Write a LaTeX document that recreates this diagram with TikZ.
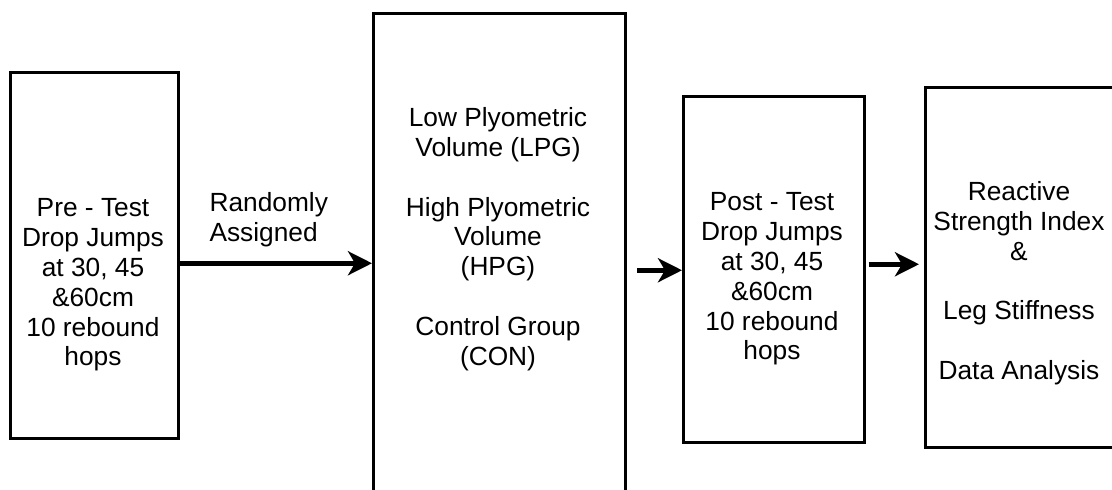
\documentclass[tikz,border=0pt]{standalone}
\usepackage{fontspec}
\setmainfont{Liberation Sans}
\usetikzlibrary{arrows.meta,calc}

\tikzset{
    stage/.style={draw, line width=2.5pt, inner sep=0pt, anchor=north west},
    txt/.style={align=center, font=\fontsize{26.3}{29.8}\selectfont},
    arr/.style={line width=4.5pt, -{Stealth[length=24pt,width=24pt,inset=7pt]}}
}

\begin{document}
\begin{tikzpicture}[x=1pt, y=-1pt]

    \useasboundingbox (0,0) rectangle (1112,490);
    \clip (0,0) rectangle (1112,490);

    % the four stages
    \node[stage, minimum width=168pt, minimum height=366pt] (pretest) at (9,71) {};
    \node[stage, minimum width=252pt, minimum height=520pt] (groups) at (372,12) {};
    \node[stage, minimum width=181pt, minimum height=346pt] (posttest) at (682,95) {};
    \node[stage, minimum width=220pt, minimum height=360pt] (analysis) at (924,86) {};

    \node[txt] (pretesttxt) at (93,285) {Pre - Test\\Drop Jumps\\at 30, 45\\\&60cm\\10 rebound\\hops};
    \node[txt] (groupstxt) at (498,239) {Low Plyometric\\Volume (LPG)\\[29.8pt]High Plyometric\\Volume\\(HPG)\\[29.8pt]Control Group\\(CON)};
    \node[txt] (posttesttxt) at (772,279) {Post - Test\\Drop Jumps\\at 30, 45\\\&60cm\\10 rebound\\hops};
    \node[txt] (analysistxt) at (1019,283) {Reactive\\Strength Index\\\&\\[29.8pt]Leg Stiffness\\[29.8pt]Data Analysis};

    % connectors
    \coordinate (a1) at ($(pretest.east)+(0,8)$);
    \draw[arr] (a1) -- (a1 -| groups.west);
    \node[txt, align=left, anchor=west] (assigned) at (206,220) {Randomly\\Assigned};

    \coordinate (a2) at ($(posttest.west)+(-45,1)$);
    \draw[arr] (a2) -- (a2 -| posttest.west);

    \coordinate (a3) at ($(posttest.east)+(3,-5)$);
    \draw[arr] (a3) -- ($(a3 -| analysis.west)+(-5,0)$);

\end{tikzpicture}
\end{document}
